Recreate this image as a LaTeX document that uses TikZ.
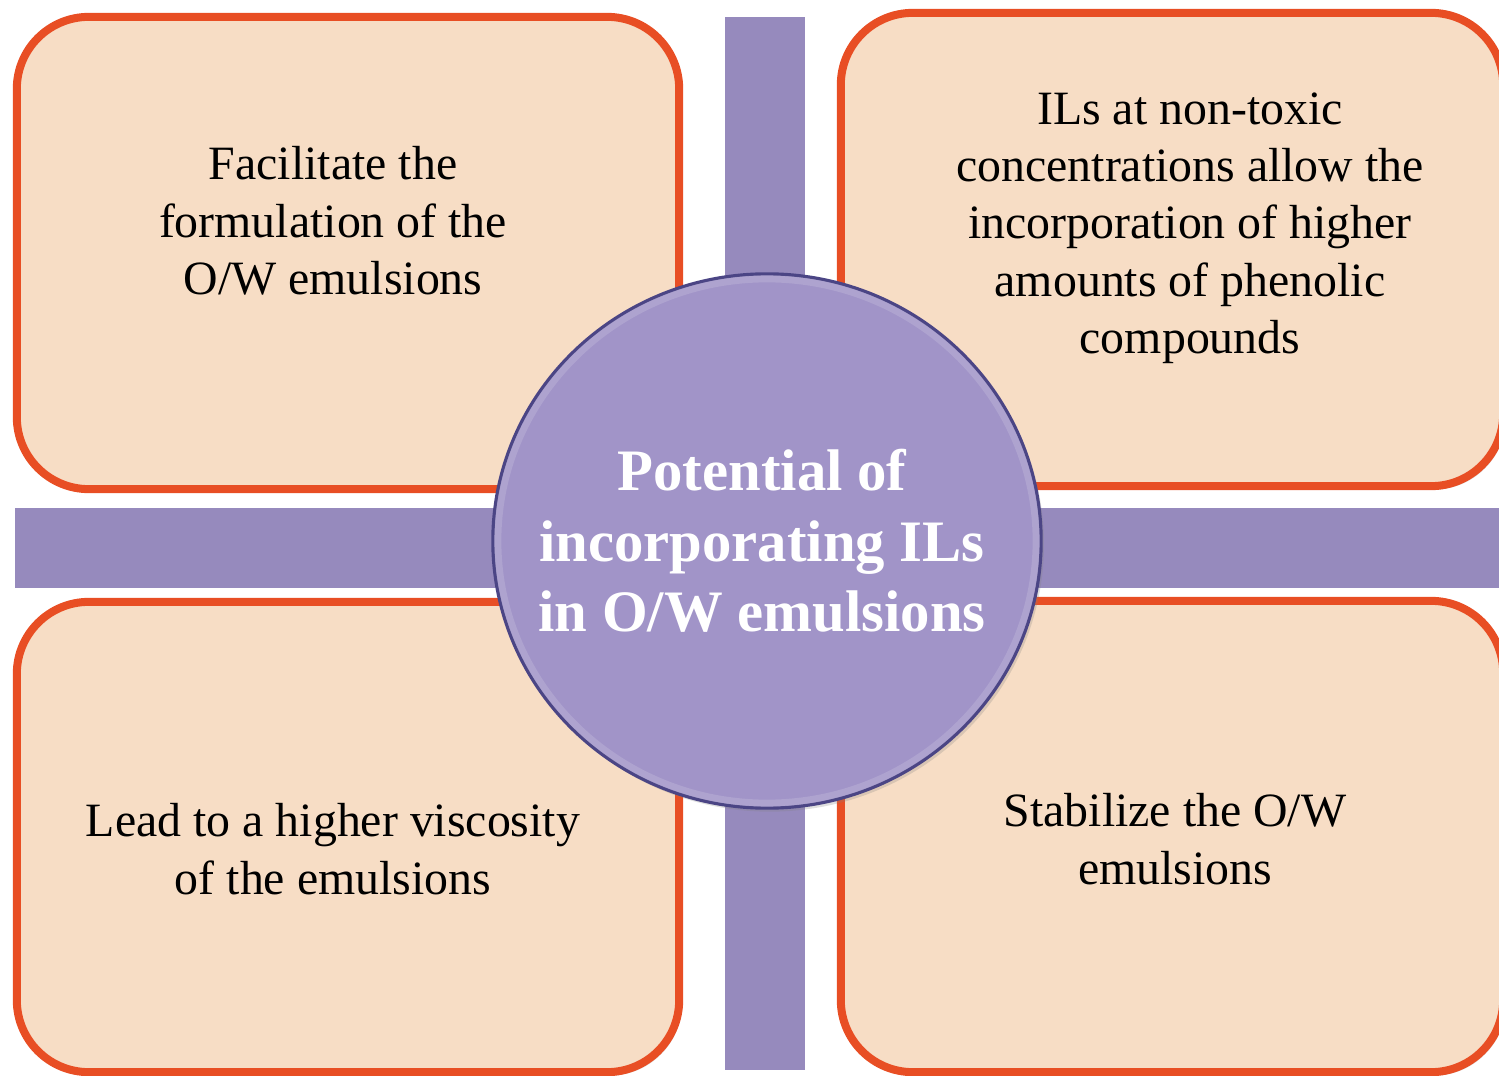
\documentclass[tikz,border=0pt]{standalone}
\usepackage{fontspec}
\setmainfont{Liberation Serif}
\usepackage{tikz}
\usetikzlibrary{shadows,shapes.geometric}
\definecolor{cPeach}{HTML}{F7DDC5}
\definecolor{cOrange}{HTML}{E84E24}
\definecolor{cBar}{HTML}{968ABD}
\definecolor{cHub}{HTML}{A194C8}
\definecolor{cHubEdge}{HTML}{4B4585}
\tikzset{
  cell/.style={rectangle,rounded corners=0.72cm,fill=cPeach,draw=cOrange,line width=0.08cm,
               drop shadow={shadow xshift=0.8pt,shadow yshift=-1pt,opacity=0.25}},
  hub/.style ={ellipse,fill=cHub,draw=cHubEdge,line width=0.9pt,minimum width=5.48cm,minimum height=5.34cm,inner sep=0pt,
               drop shadow={shadow xshift=0.8pt,shadow yshift=-1pt,opacity=0.25}},
  txt/.style ={align=center,inner sep=0pt,font=\fontsize{13.6pt}{16.3pt}\selectfont},
  bar/.style ={fill=cBar},
}
\begin{document}
\begin{tikzpicture}[x=0.01cm,y=-0.01cm]
  \useasboundingbox (0,0) rectangle (1499,1076);
  % the four boxes
  \node[cell,minimum width=6.62cm,minimum height=4.72cm] (tl) at (348,253) {};
  \node[cell,minimum width=6.62cm,minimum height=4.73cm] (tr) at (1172,249.5) {};
  \node[cell,minimum width=6.62cm,minimum height=4.70cm] (bl) at (348,837) {};
  \node[cell,minimum width=6.62cm,minimum height=4.71cm] (br) at (1172,836.5) {};
  % cross bars
  \fill[bar] (725,17) rectangle (805,1070);
  \fill[bar] (15,508) rectangle (1499,588);
  % centre
  \node[hub] (hub) at (767,541) {};
  \draw[white,opacity=0.14,line width=2pt] (hub.center) ellipse [x radius=2.69cm,y radius=2.62cm];
  \node[align=center,inner sep=0pt,text=white,font=\fontsize{16.7pt}{20pt}\selectfont\bfseries] (title) at (762,541)
        {Potential of\\incorporating ILs\\in O/W emulsions};
  % texts
  \node[txt] (tltext) at (333,221) {Facilitate the\\formulation of the\\O/W emulsions};
  \node[txt] (trtext) at (1190,228) {ILs at non-toxic\\concentrations allow the\\incorporation of higher\\amounts of phenolic\\compounds};
  \node[txt] (bltext) at (333,849) {Lead to a higher viscosity\\of the emulsions};
  \node[txt] (brtext) at (1175,839) {Stabilize the O/W\\emulsions};
\end{tikzpicture}
\end{document}
